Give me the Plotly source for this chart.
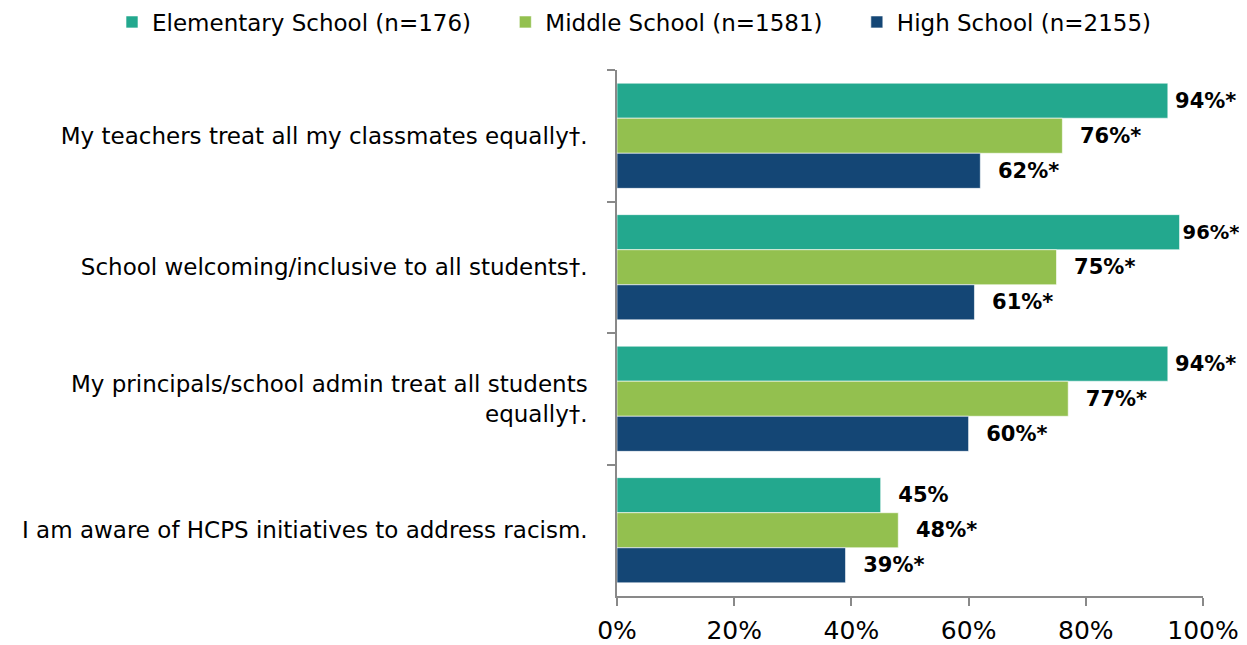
import plotly.graph_objects as go

categories = [
    "My teachers treat all my classmates equally†.",
    "School welcoming/inclusive to all students†.",
    "My principals/school admin treat all students<br>equally†.",
    "I am aware of HCPS initiatives to address racism.",
]
series_names = [
    "Elementary School (n=176)",
    "Middle School (n=1581)",
    "High School (n=2155)",
]
elementary = [94, 96, 94, 45]
middle = [76, 75, 77, 48]
high = [62, 61, 60, 39]
elementary_labels = ["94%*", "96%*", "94%*", "45%"]
middle_labels = ["76%*", "75%*", "77%*", "48%*"]
high_labels = ["62%*", "61%*", "60%*", "39%*"]
x_ticks = [0, 20, 40, 60, 80, 100]
x_tick_labels = ["0%", "20%", "40%", "60%", "80%", "100%"]

colors = ["#23A88E", "#93C04F", "#144675"]
FONT = "DejaVu Sans, sans-serif"
NB = "\u00a0"

def padded(vals, labels):
    out = []
    for v, t in zip(vals, labels):
        if v >= 95:
            pad = ""
        elif v >= 90:
            pad = "\u2009"
        else:
            pad = NB * 2
        out.append(pad + t)
    return out

def label_sizes(vals):
    # labels squeezed against the right edge are set a little smaller
    return [19.5 if v >= 95 else 21 for v in vals]

# page body has an 8px default margin; size the figure to fit the 1247x645 window
W, H = 1239, 637
L, T = 609, 62
PLOT_W, PLOT_H = 586, 526

fig = go.Figure()
for name, vals, labels, c in zip(series_names, [elementary, middle, high],
                                 [elementary_labels, middle_labels, high_labels], colors):
    fig.add_trace(go.Bar(
        y=categories, x=vals, name=name + NB * 4, orientation="h",
        marker=dict(color=c, line=dict(color="rgba(255,255,255,0.6)", width=1)),
        text=padded(vals, labels), textposition="outside",
        textfont=dict(family=FONT, size=label_sizes(vals), color="black", weight="bold"),
        cliponaxis=False, constraintext="none",
        hoverinfo="skip",
    ))

fig.update_layout(
    width=W, height=H,
    margin=dict(l=L, r=W - L - PLOT_W, t=T, b=H - T - PLOT_H, autoexpand=False),
    paper_bgcolor="white", plot_bgcolor="white",
    barmode="group", bargap=0.2,
    font=dict(family=FONT, size=23, color="black"),
    legend=dict(orientation="h", xref="paper", yref="paper",
                x=(104 - L) / PLOT_W, xanchor="left",
                y=1 + (T - 14) / PLOT_H, yanchor="middle",
                bgcolor="rgba(0,0,0,0)",
                font=dict(size=23), traceorder="normal", itemclick=False),
    showlegend=True,
)
fig.update_xaxes(
    range=[0, 100], tickvals=x_ticks, ticktext=x_tick_labels, automargin=False,
    showgrid=False, zeroline=False, showline=True, linecolor="#898989", linewidth=1.5,
    ticks="outside", ticklen=8, tickcolor="#898989", tickwidth=1.5,
    tickfont=dict(size=25), ticklabelstandoff=3,
)
fig.update_yaxes(
    autorange="reversed", automargin=False, showgrid=False, showline=True,
    linecolor="#898989", linewidth=1.5,
    ticks="outside", ticklen=8, tickcolor="#898989", tickwidth=1.5, tickson="boundaries",
    tickfont=dict(size=23), ticklabelstandoff=23,
)
fig.write_html("out.html")
